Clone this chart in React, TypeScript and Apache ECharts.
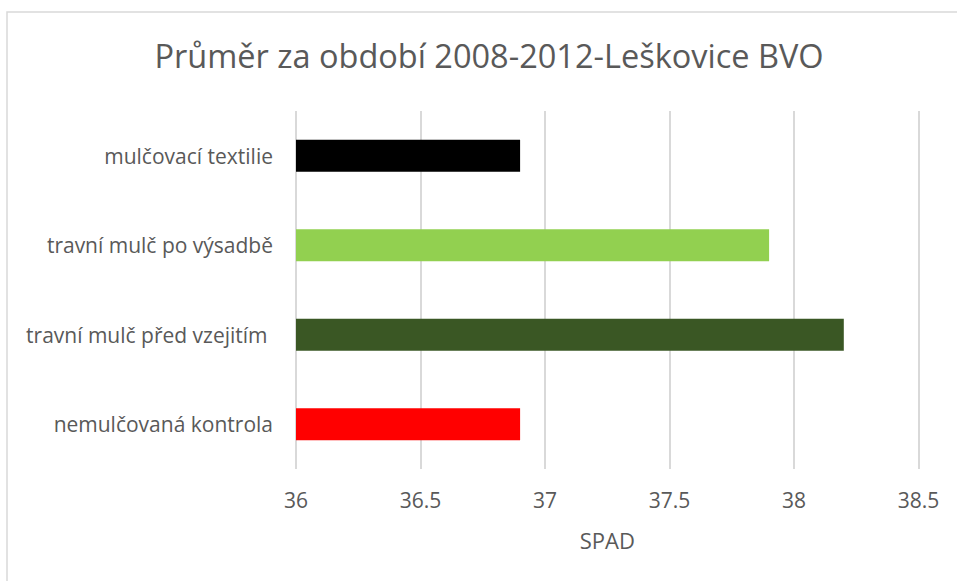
import React, { useEffect, useRef } from "react";
import * as echarts from "echarts";

const titleText = "Průměr za období 2008-2012-Leškovice BVO";
const categories = [
  "nemulčovaná kontrola",
  "travní mulč před vzejitím ",
  "travní mulč po výsadbě",
  "mulčovací textilie",
];
const values = [36.9, 38.2, 37.9, 36.9];
const barColors = ["#FF0000", "#3A5724", "#92D050", "#000000"];
const axisName = "SPAD";
const xMin = 36;
const xMax = 38.5;
const xStep = 0.5;

const FONT = "'Open Sans', 'Noto Sans', sans-serif";
const TEXT = "#595959";
const GRID = "#D9D9D9";

export default function App() {
  const ref = useRef<HTMLDivElement>(null);
  useEffect(() => {
    if (!ref.current) return;
    const chart = echarts.init(ref.current, null, { renderer: "svg" });
    chart.setOption({
      animation: false,
      backgroundColor: "#ffffff",
      title: {
        text: titleText,
        left: 489,
        top: 39,
        textAlign: "center",
        padding: 0,
        textStyle: {
          fontFamily: FONT,
          fontSize: 32.5,
          fontWeight: "normal",
          color: TEXT,
        },
      },
      graphic: [
        {
          type: "rect",
          shape: { x: 7, y: 12, width: 1200, height: 1200 },
          style: { fill: "none", stroke: GRID, lineWidth: 1.5 },
          silent: true,
          z: -1,
        },
      ],
      grid: { left: 296, right: 38.5, top: 111, bottom: 112, containLabel: false },
      xAxis: {
        type: "value",
        min: xMin,
        max: xMax,
        interval: xStep,
        name: axisName,
        nameLocation: "middle",
        nameGap: 60,
        nameTextStyle: { fontFamily: FONT, fontSize: 22, color: TEXT },
        axisLine: { show: false },
        axisTick: { show: false },
        axisLabel: {
          margin: 20,
          fontFamily: FONT,
          fontSize: 21,
          color: TEXT,
        },
        splitLine: { show: true, lineStyle: { color: GRID, width: 2 } },
      },
      yAxis: {
        type: "category",
        data: categories,
        axisLine: { show: false },
        axisTick: { show: false },
        axisLabel: {
          margin: 23,
          fontFamily: FONT,
          fontSize: 21,
          color: TEXT,
        },
        splitLine: { show: false },
      },
      series: [
        {
          type: "bar",
          barWidth: 32,
          data: values.map((v, i) => ({ value: v, itemStyle: { color: barColors[i] } })),
        },
      ],
    });
    return () => chart.dispose();
  }, []);
  return (
    <div
      ref={ref}
      style={{ position: "fixed", left: 0, top: 0, width: 957, height: 581, background: "#fff" }}
    />
  );
}
